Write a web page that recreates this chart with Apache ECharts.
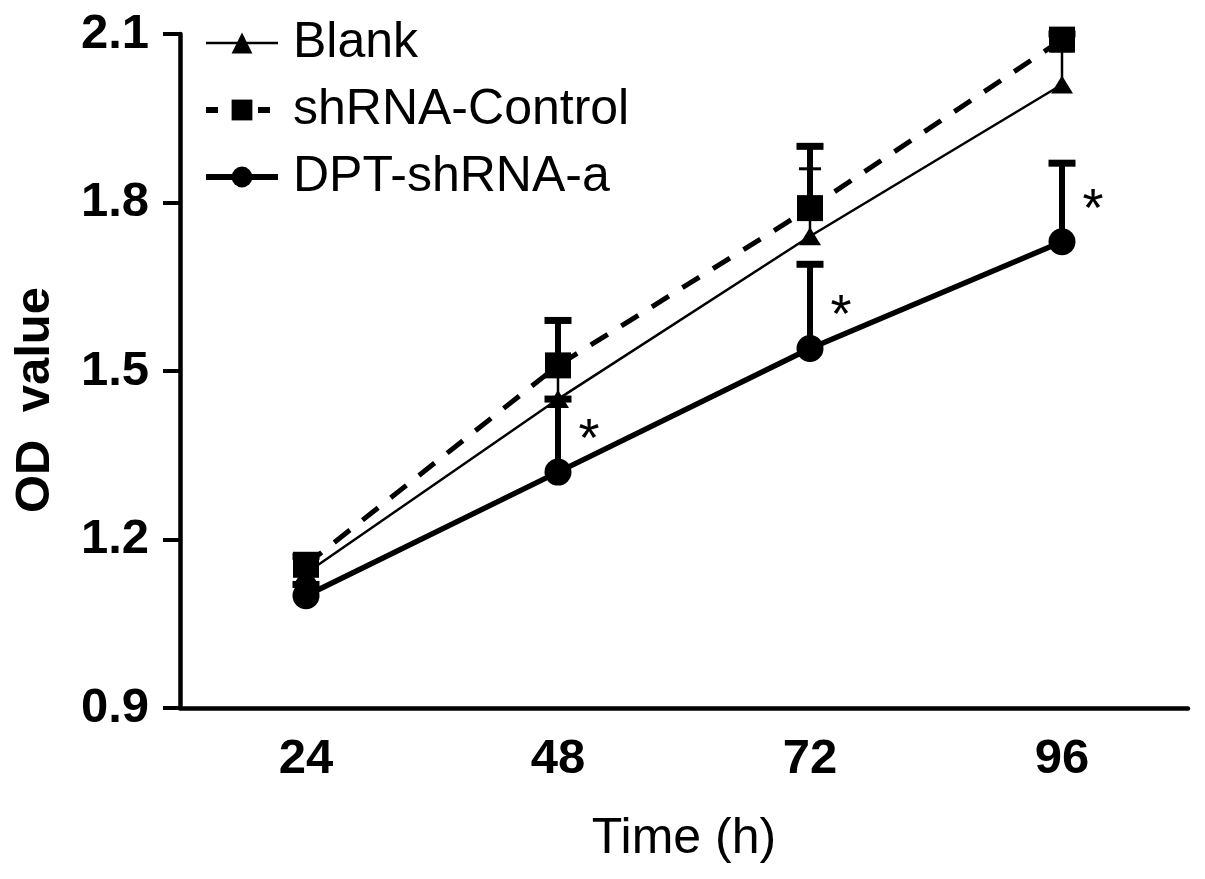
<!DOCTYPE html>
<html><head><meta charset="utf-8">
<script src="https://cdn.jsdelivr.net/npm/echarts@6/dist/echarts.min.js"></script>
<style>html,body{margin:0;padding:0;background:#fff}#c{width:1205px;height:879px}</style>
</head><body><div id="c"></div>
<script>
// ---- data ----
const categories = ['24', '48', '72', '96'];
const blankMean = [1.14, 1.45, 1.74, 2.01];
const blankUpper = [1.16, 1.50, 1.86, 2.07];
const controlMean = [1.155, 1.51, 1.79, 2.09];
const controlUpper = [1.17, 1.59, 1.90, 2.10];
const dptMean = [1.10, 1.32, 1.54, 1.73];
const dptUpper = [1.12, 1.45, 1.69, 1.87];
const dptSig = ['', '*', '*', '*'];
const seriesNames = ['Blank', 'shRNA-Control', 'DPT-shRNA-a'];

const FONT = '"Liberation Sans", Arial, Helvetica, sans-serif';

function errSeries(name, means, uppers, barW, capW, capH) {
  return {
    type: 'custom', name: name + ' err', silent: true, z: 1,
    encode: { x: 0, y: [1, 2] },
    data: means.map((m, i) => [i, m, uppers[i]]),
    renderItem(params, api) {
      const p0 = api.coord([api.value(0), api.value(1)]);
      const p1 = api.coord([api.value(0), api.value(2)]);
      return {
        type: 'group', children: [
          { type: 'line', shape: { x1: p0[0], y1: p0[1], x2: p1[0], y2: p1[1] }, style: { stroke: '#000', lineWidth: barW } },
          { type: 'line', shape: { x1: p1[0] - capW / 2, y1: p1[1], x2: p1[0] + capW / 2, y2: p1[1] }, style: { stroke: '#000', lineWidth: capH } }
        ]
      };
    }
  };
}

const chart = echarts.init(document.getElementById('c'), null, { renderer: 'canvas' });
chart.setOption({
  animation: false,
  backgroundColor: '#fff',
  grid: { left: 180, right: 17, top: 34, bottom: 171 },
  legend: {
    orient: 'vertical', left: 198, top: 13,
    itemWidth: 72, itemHeight: 26, itemGap: 17,
    data: [
      { name: seriesNames[0], lineStyle: { width: 2.5, type: 'solid' } },
      { name: seriesNames[1], lineStyle: { width: 6, type: [12, 14] } },
      { name: seriesNames[2], lineStyle: { width: 6, type: 'solid' } }
    ],
    textStyle: { fontSize: 50, color: '#000', fontFamily: FONT, padding: [0, 0, 0, 10] }
  },
  xAxis: {
    type: 'category', data: categories, boundaryGap: true,
    axisLine: { lineStyle: { color: '#000', width: 4.5 } },
    axisTick: { alignWithLabel: true, length: 17, lineStyle: { color: '#000', width: 4 } },
    axisLabel: { fontSize: 49, fontWeight: 'bold', color: '#000', fontFamily: FONT, margin: 27 },
    name: 'Time (h)', nameLocation: 'middle', nameGap: 106,
    nameTextStyle: { fontSize: 50, color: '#000', fontFamily: FONT }
  },
  yAxis: {
    type: 'value', min: 0.9, max: 2.1, interval: 0.3,
    splitLine: { show: false },
    axisLine: { show: true, lineStyle: { color: '#000', width: 4.5 } },
    axisTick: { show: true, length: 17, lineStyle: { color: '#000', width: 4 } },
    axisLabel: { fontSize: 49, fontWeight: 'bold', color: '#000', fontFamily: FONT, margin: 31,
      formatter: v => v.toFixed(1) },
    name: 'OD  value', nameLocation: 'middle', nameGap: 120,
    nameTextStyle: { fontSize: 49, fontWeight: 'bold', color: '#000', fontFamily: FONT, padding: [0, 58, 0, 0] }
  },
  series: [
    errSeries('Blank', blankMean, blankUpper, 2.5, 22, 3),
    errSeries('shRNA-Control', controlMean, controlUpper, 6, 27, 7),
    errSeries('DPT-shRNA-a', dptMean, dptUpper, 6, 27, 7),
    {
      name: 'Blank', type: 'line', data: blankMean, z: 3,
      symbol: 'triangle', symbolSize: [22, 18], showAllSymbol: true,
      itemStyle: { color: '#000' }, lineStyle: { color: '#000', width: 2.5 }
    },
    {
      name: 'shRNA-Control', type: 'line', data: controlMean, z: 4,
      symbol: 'rect', symbolSize: 26,
      itemStyle: { color: '#000' }, lineStyle: { color: '#000', width: 5, type: [20, 16] }
    },
    {
      name: 'DPT-shRNA-a', type: 'line', data: dptMean, z: 5,
      symbol: 'circle', symbolSize: 27,
      itemStyle: { color: '#000' }, lineStyle: { color: '#000', width: 5.5 },
      label: {
        show: true, position: 'right', distance: 7, offset: [0, -31],
        formatter: p => dptSig[p.dataIndex],
        fontSize: 54, color: '#000', fontFamily: FONT
      }
    }
  ]
});
</script></body></html>
